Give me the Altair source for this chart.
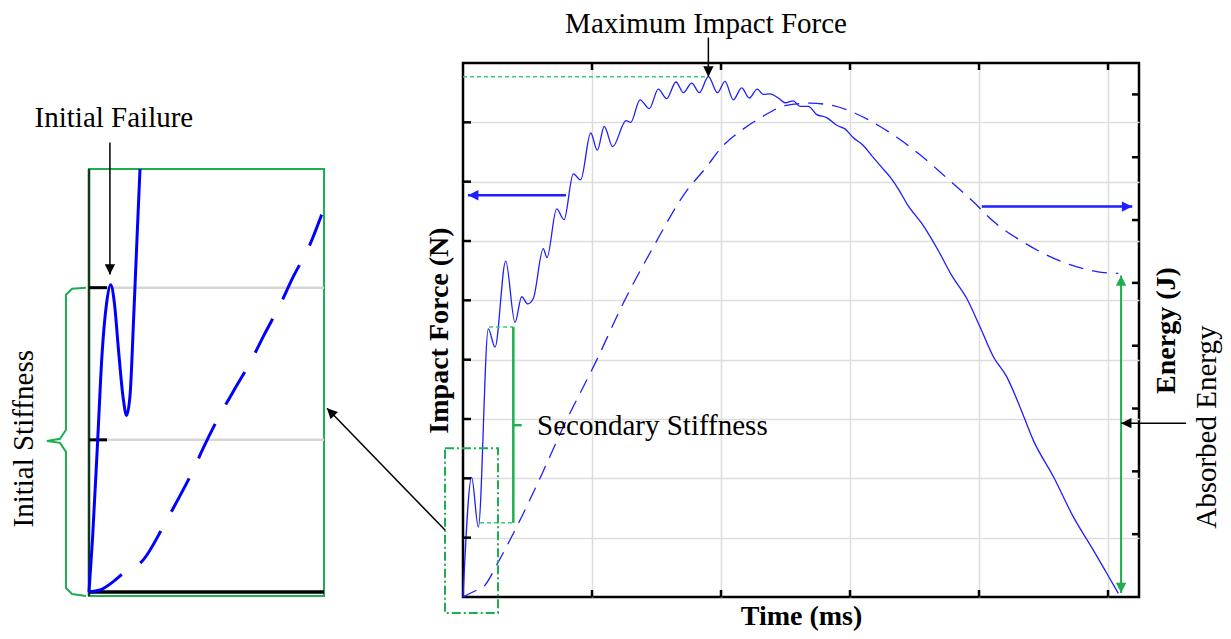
import altair as alt
import pandas as pd

SERIF = "Liberation Serif"
BLUE = "#1e1eff"
GREEN = "#1fae4f"
LGREEN = "#3dcc77"
GRID = "#dddddd"

# ---------------- main chart data ----------------
force_t = [0.0, 0.067, 0.119, 0.196, 0.248, 0.331, 0.403, 0.455, 0.502, 0.545,
           0.622, 0.651, 0.726, 0.783, 0.855, 0.912, 0.990, 1.041, 1.095, 1.160,
           1.264, 1.300, 1.372, 1.444, 1.514, 1.579, 1.651, 1.708, 1.773, 1.832,
           1.902, 1.973, 2.031, 2.095, 2.160, 2.219, 2.281, 2.328, 2.380, 2.444,
           2.496, 2.560, 2.612, 2.677, 2.742, 2.819, 2.897, 2.961, 3.026, 3.103,
           3.168, 3.246, 3.310, 3.382, 3.440, 3.568, 3.684, 3.788, 3.905, 4.008,
           4.111, 4.215, 4.318, 4.421, 4.576, 4.731, 4.886, 4.990, 5.080]
force_F = [0.0, 2.015, 1.18, 4.52, 4.21, 5.66, 4.63, 5.06, 4.94, 5.03,
           5.87, 5.72, 6.54, 6.36, 7.13, 7.03, 7.82, 7.53, 7.93, 7.59,
           8.03, 8.00, 8.38, 8.23, 8.56, 8.40, 8.68, 8.50, 8.66, 8.50,
           8.77, 8.50, 8.69, 8.38, 8.58, 8.41, 8.56, 8.47, 8.48, 8.41,
           8.33, 8.36, 8.27, 8.27, 8.13, 8.08, 7.95, 7.89, 7.74, 7.61,
           7.44, 7.24, 7.08, 6.85, 6.63, 6.26, 5.84, 5.42, 5.03, 4.55,
           4.05, 3.71, 3.20, 2.64, 2.03, 1.35, 0.79, 0.40, 0.06]

energy_t = [0.0, 0.106, 0.157, 0.274, 0.390, 0.597, 0.778, 1.036, 1.243, 1.475,
            1.721, 1.889, 2.005, 2.160, 2.316, 2.496, 2.690, 2.871, 3.039, 3.233,
            3.382, 3.543, 3.750, 3.956, 4.111, 4.318, 4.498, 4.705, 4.912, 5.080]
energy_E = [0.0, 0.11, 0.16, 0.56, 1.01, 1.89, 2.71, 3.77, 4.68, 5.57,
            6.43, 6.85, 7.16, 7.43, 7.64, 7.82, 7.86, 7.82, 7.70, 7.49,
            7.29, 7.04, 6.67, 6.29, 5.98, 5.68, 5.47, 5.29, 5.18, 5.15]

time_ticks = [1, 2, 3, 4, 5]
force_ticks = [1, 2, 3, 4, 5, 6, 7, 8]
energy_ticks = [1, 2, 3, 4, 5, 6, 7, 8]
T_MAX, F_MAX, E_MAX = 5.24, 9.0, 8.5

# ---------------- inset data ----------------
inset_fx = [0.0, 0.015, 0.037, 0.055, 0.075, 0.092, 0.108, 0.125, 0.145, 0.160,
            0.175, 0.190, 0.205, 0.217]
inset_fy = [0.0, 0.35, 1.0, 1.55, 1.9, 2.02, 1.9, 1.6, 1.28, 1.16,
            1.3, 1.8, 2.35, 2.78]
inset_ex = [0.0, 0.047, 0.103, 0.146, 0.231, 0.316, 0.366, 0.444, 0.486, 0.557,
            0.614, 0.692, 0.742, 0.820, 0.863, 0.940, 0.990]
inset_ey = [0.0, 0.013, 0.068, 0.123, 0.211, 0.430, 0.572, 0.803, 0.945, 1.164,
            1.318, 1.526, 1.680, 1.910, 2.053, 2.283, 2.480]
inset_ticks = [1, 2]
I_YMIN, I_YMAX = -0.026, 2.78

brace_x = [-0.013, -0.072, -0.098, -0.098, -0.123, -0.179, -0.123, -0.098, -0.098, -0.072, -0.013]
brace_y = [2.0, 1.993, 1.954, 1.066, 1.007, 0.993, 0.980, 0.921, 0.026, -0.013, -0.026]

# ---------------- annotations (data units) ----------------
arrow_x1 = [1.902, 0.798, 4.021, 5.101, 5.605, -0.1395, 0.39, 0.39]
arrow_y1 = [9.43, 6.77, 6.58, 5.42, 2.93, 1.128, 1.25, 2.896]
arrow_x2 = [1.902, 0.039, 5.188, 5.101, 5.101, -1.054, 0.39, 0.455]
arrow_y2 = [8.77, 6.77, 6.58, 0.067, 2.93, 3.182, 4.55, 2.896]
arrow_col = ["black", BLUE, BLUE, GREEN, "black", "black", GREEN, GREEN]
arrow_w = [1.5, 2.5, 2.5, 2.0, 1.5, 1.5, 2.5, 2.5]

head_x = [1.902, 0.039, 5.188, 5.101, 5.101, 5.101, -1.054]
head_y = [8.77, 6.77, 6.58, 5.42, 0.067, 2.93, 3.182]
head_ang = [180, 270, 90, 0, 180, 270, 316]
head_col = ["black", BLUE, BLUE, GREEN, GREEN, "black", "black"]

dot_x1 = [0.0, 0.202, 0.132]
dot_x2 = [1.902, 0.39, 0.39]
dot_y = [8.77, 4.55, 1.25]

zoom_box = {"t": [-0.1395], "t2": [0.2713], "F": [-0.269], "F2": [2.508]}

ARROW = "M0,0L-0.6,1.2L0.6,1.2Z"

T = alt.Scale(domain=[0, T_MAX], nice=False, zero=False)
FS = alt.Scale(domain=[0, F_MAX], nice=False, zero=False)
ES = alt.Scale(domain=[0, E_MAX], nice=False, zero=False)
IX = alt.Scale(domain=[0, 1], range=[-374, -139], nice=False, zero=False)
IY = alt.Scale(domain=[0, I_YMAX], range=[529, 106], nice=False, zero=False)


def tx(field="t"):
    return alt.X(f"{field}:Q", scale=T, axis=None)


def fy(field="F"):
    return alt.Y(f"{field}:Q", scale=FS, axis=None)


# ---------------- main force layers ----------------
force_df = pd.DataFrame({"t": force_t, "F": force_F})
force_line = alt.Chart(force_df).mark_line(color=BLUE, strokeWidth=1.3, interpolate="monotone").encode(
    x=alt.X("t:Q", scale=T, axis=alt.Axis(values=time_ticks, labels=False, ticks=False, domain=False,
                                          grid=True, gridColor=GRID, gridWidth=1.5, title="Time (ms)",
                                          titleFont=SERIF, titleFontSize=28, titleFontWeight="bold",
                                          titleColor="black", titlePadding=5)),
    y=alt.Y("F:Q", scale=FS, axis=alt.Axis(values=force_ticks, labels=False, ticks=False, domain=False,
                                           grid=True, gridColor=GRID, gridWidth=1.5, title="Impact Force (N)",
                                           titleFont=SERIF, titleFontSize=28, titleFontWeight="bold",
                                           titleColor="black", titlePadding=10)),
)

tk_rows = []
for f in force_ticks:
    tk_rows.append({"t": 0.0, "t2": 8 / 129, "F": f, "F2": f})
for v in time_ticks:
    tk_rows.append({"t": v, "t2": v, "F": 0.0, "F2": 7 / 59.4})
    tk_rows.append({"t": v, "t2": v, "F": F_MAX, "F2": F_MAX - 7 / 59.4})
ticks_main = alt.Chart(pd.DataFrame(tk_rows)).mark_rule(color="black", strokeWidth=2.5).encode(
    x=tx(), x2="t2:Q", y=fy(), y2="F2:Q")

arrow_df = pd.DataFrame({"t": arrow_x1, "t2": arrow_x2, "F": arrow_y1, "F2": arrow_y2,
                         "c": arrow_col, "w": arrow_w})
arrows = alt.Chart(arrow_df).mark_rule().encode(
    x=tx(), x2="t2:Q", y=fy(), y2="F2:Q",
    color=alt.Color("c:N", scale=None), strokeWidth=alt.StrokeWidth("w:Q", scale=None))

head_df = pd.DataFrame({"t": head_x, "F": head_y, "a": head_ang, "c": head_col})
heads = alt.Chart(head_df).mark_point(shape=ARROW, filled=True, size=300, opacity=1, strokeWidth=0).encode(
    x=tx(), y=fy(), angle=alt.Angle("a:Q", scale=None), color=alt.Color("c:N", scale=None))

dot_df = pd.DataFrame({"t": dot_x1, "t2": dot_x2, "F": dot_y})
dots = alt.Chart(dot_df).mark_rule(color=LGREEN, strokeWidth=1.5, strokeDash=[4, 3]).encode(
    x=tx(), x2="t2:Q", y=fy())

box = alt.Chart(pd.DataFrame(zoom_box)).mark_rect(
    fillOpacity=0, stroke=GREEN, strokeWidth=2, strokeDash=[9, 3, 2, 3]).encode(
    x=tx(), x2="t2:Q", y=fy(), y2="F2:Q")

txt_center = alt.Chart(pd.DataFrame({"t": [1.884], "F": [9.51], "label": ["Maximum Impact Force"]})).mark_text(
    font=SERIF, fontSize=29, color="black", align="center", baseline="alphabetic").encode(
    x=tx(), y=fy(), text="label:N")
txt_left = alt.Chart(pd.DataFrame({"t": [0.574], "F": [2.727], "label": ["Secondary Stiffness"]})).mark_text(
    font=SERIF, fontSize=29, color="black", align="left", baseline="alphabetic").encode(
    x=tx(), y=fy(), text="label:N")
txt_rot = alt.Chart(pd.DataFrame({"t": [5.837], "F": [2.862], "label": ["Absorbed Energy"]})).mark_text(
    font=SERIF, fontSize=29, color="black", align="center", baseline="alphabetic", angle=270).encode(
    x=tx(), y=fy(), text="label:N")

# ---------------- energy layers ----------------
energy_df = pd.DataFrame({"t": energy_t, "E": energy_E})
energy_line = alt.Chart(energy_df).mark_line(color=BLUE, strokeWidth=1.3, strokeDash=[15, 9],
                                             interpolate="monotone").encode(
    x=tx(),
    y=alt.Y("E:Q", scale=ES, axis=alt.Axis(orient="right", values=energy_ticks, labels=False, ticks=False,
                                           domain=False, grid=False, title="Energy (J)", titleAngle=270,
                                           titleBaseline="top", titleFont=SERIF, titleFontSize=28,
                                           titleFontWeight="bold", titleColor="black", titlePadding=13)))
rt_df = pd.DataFrame({"t": [T_MAX - 7 / 129] * len(energy_ticks), "t2": [T_MAX] * len(energy_ticks),
                      "E": energy_ticks})
right_ticks = alt.Chart(rt_df).mark_rule(color="black", strokeWidth=2.5).encode(
    x=tx(), x2="t2:Q", y=alt.Y("E:Q", scale=ES, axis=None))


# ---------------- inset layers ----------------
def ix(field="x"):
    return alt.X(f"{field}:Q", scale=IX, axis=None)


def iy(field="y"):
    return alt.Y(f"{field}:Q", scale=IY, axis=None)


border = alt.Chart(pd.DataFrame({"x": [0.0], "x2": [1.0], "y": [I_YMIN], "y2": [I_YMAX]})).mark_rect(
    fillOpacity=0, stroke=GREEN, strokeWidth=2).encode(x=ix(), x2="x2:Q", y=iy(), y2="y2:Q")
igrid = alt.Chart(pd.DataFrame({"x": [0.0] * 2, "x2": [1.0] * 2, "y": inset_ticks})).mark_rule(
    color="#d6d6d6", strokeWidth=2.5).encode(x=ix(), x2="x2:Q", y=iy())
ibase = alt.Chart(pd.DataFrame({"x": [0.0], "x2": [1.0], "y": [0.0]})).mark_rule(
    color="black", strokeWidth=3.5).encode(x=ix(), x2="x2:Q", y=iy())
ileft = alt.Chart(pd.DataFrame({"x": [0.0], "y": [I_YMIN], "y2": [I_YMAX]})).mark_rule(
    color="#0f3a1c", strokeWidth=2.5).encode(x=ix(), y=iy(), y2="y2:Q")
iticks = alt.Chart(pd.DataFrame({"x": [0.0] * 2, "x2": [18 / 235] * 2, "y": inset_ticks})).mark_rule(
    color="black", strokeWidth=3).encode(x=ix(), x2="x2:Q", y=iy())
iforce = alt.Chart(pd.DataFrame({"x": inset_fx, "y": inset_fy})).mark_line(
    color="#0000ff", strokeWidth=3, interpolate="monotone").encode(x=ix(), y=iy())
ienergy = alt.Chart(pd.DataFrame({"x": inset_ex, "y": inset_ey})).mark_line(
    color="#0000ff", strokeWidth=3, strokeDash=[38, 22], interpolate="monotone").encode(x=ix(), y=iy())
ibrace = alt.Chart(pd.DataFrame({"x": brace_x, "y": brace_y, "i": list(range(len(brace_x)))})).mark_line(
    color=GREEN, strokeWidth=2).encode(x=ix(), y=iy(), order="i:Q")
iarrow = alt.Chart(pd.DataFrame({"x": [0.089], "y": [2.954], "y2": [2.086]})).mark_rule(
    color="black", strokeWidth=1.5).encode(x=ix(), y=iy(), y2="y2:Q")
ihead = alt.Chart(pd.DataFrame({"x": [0.089], "y": [2.086]})).mark_point(
    shape=ARROW, filled=True, size=300, opacity=1, strokeWidth=0, color="black", angle=180).encode(
    x=ix(), y=iy())
itxt = alt.Chart(pd.DataFrame({"x": [0.106], "y": [3.053], "label": ["Initial Failure"]})).mark_text(
    font=SERIF, fontSize=29, color="black", align="center", baseline="alphabetic").encode(
    x=ix(), y=iy(), text="label:N")
itxt_rot = alt.Chart(pd.DataFrame({"x": [-0.238], "y": [1.007], "label": ["Initial Stiffness"]})).mark_text(
    font=SERIF, fontSize=29, color="black", align="center", baseline="alphabetic", angle=270).encode(
    x=ix(), y=iy(), text="label:N")

chart = alt.layer(
    force_line, energy_line, ticks_main, right_ticks, dots, box, arrows, heads,
    txt_center, txt_left, txt_rot,
    border, igrid, ibase, ileft, iticks, ienergy, iforce, ibrace, iarrow, ihead, itxt, itxt_rot,
).resolve_scale(
    x="independent", y="independent"
).properties(
    width=676, height=534,
    autosize=alt.AutoSizeParams(type="none"),
    padding={"left": 455, "top": 55, "right": 84, "bottom": 34},
).configure_view(stroke="black", strokeWidth=2.5)

chart.save("out.html", embed_options={"renderer": "svg", "actions": False})
